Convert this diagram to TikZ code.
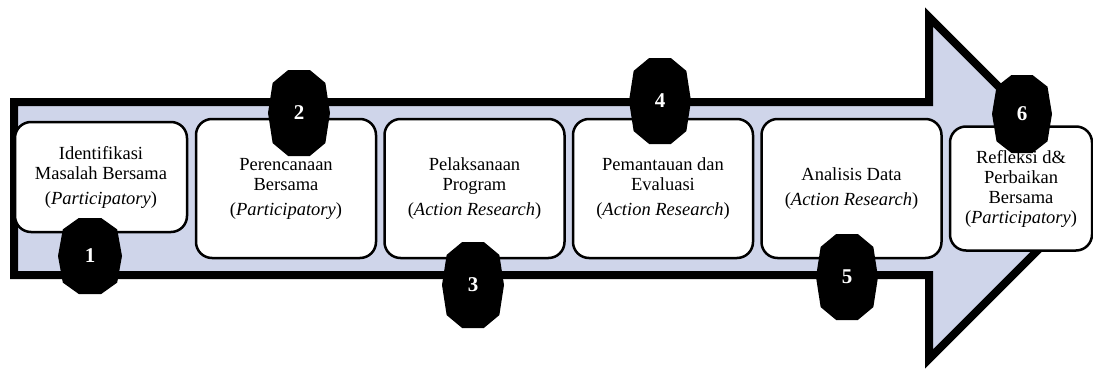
\documentclass[tikz,border=0pt]{standalone}
\usepackage{fontspec}
\setmainfont{Liberation Serif}
\usetikzlibrary{positioning}
\definecolor{shaftBlue}{RGB}{207,213,234}
\tikzstyle{stepbox} =[draw, line width=2.5pt, rounded corners=16pt, fill=white, align=center, inner sep=2pt, font=\fontsize{18.5}{20}\selectfont]
\tikzstyle{badgenum} =[text=white, inner sep=0pt, font=\fontsize{21}{22}\selectfont\bfseries]
% black ten-sided badge with its number on top
\newcommand{\badge}[5]{\fill[black, shift={(#1,#2)}, xscale=#3, yscale=#4]
	(0.35,1) -- (0.85,0.7) -- (1,0) -- (0.85,-0.7) -- (0.35,-1) -- (-0.35,-1) -- (-0.85,-0.7) -- (-1,0) -- (-0.85,0.7) -- (-0.35,1) -- cycle
	node[badgenum] (badge#5) at (0,0) {#5};}

\begin{document}
\begin{tikzpicture}[x=1pt, y=-1pt]
\clip (0,0) rectangle (1093,370);

%big arrow
\draw[line width=8pt, fill=shaftBlue]
	(14,102) -- (929,102) -- (929,17) -- (1100,188) -- (929,359) -- (929,275) -- (14,275) -- cycle;

\node (ident) [stepbox, minimum width=172pt, minimum height=110pt] at (101,177) {Identifikasi\\Masalah Bersama\\[5pt](\textit{Participatory})};

\node (rencana) [stepbox, minimum width=180pt, minimum height=139pt] at (286,188.5) {Perencanaan\\Bersama\\[5pt](\textit{Participatory})};

\node (laksana) [stepbox, minimum width=180pt, minimum height=139pt, right=6pt of rencana] {Pelaksanaan\\Program\\[5pt](\textit{Action Research})};

\node (pantau) [stepbox, minimum width=180pt, minimum height=139pt, right=6pt of laksana] {Pemantauan dan\\Evaluasi\\[5pt](\textit{Action Research})};

\node (analisis) [stepbox, minimum width=180pt, minimum height=139pt, right=6pt of pantau] {Analisis Data\\[5pt](\textit{Action Research})};

\node (refleksi) [stepbox, minimum width=142pt, minimum height=124pt, right=6pt of analisis] {Refleksi d\&\\Perbaikan\\Bersama\\(\textit{Participatory})};

%numbers
\badge{90}{256}{32}{38}{1}
\badge{299}{113}{31}{43}{2}
\badge{473}{285}{31}{43}{3}
\badge{660}{101}{31}{43}{4}
\badge{847}{277}{31}{43}{5}
\badge{1022}{114}{30}{39}{6}
\end{tikzpicture}
\end{document}
